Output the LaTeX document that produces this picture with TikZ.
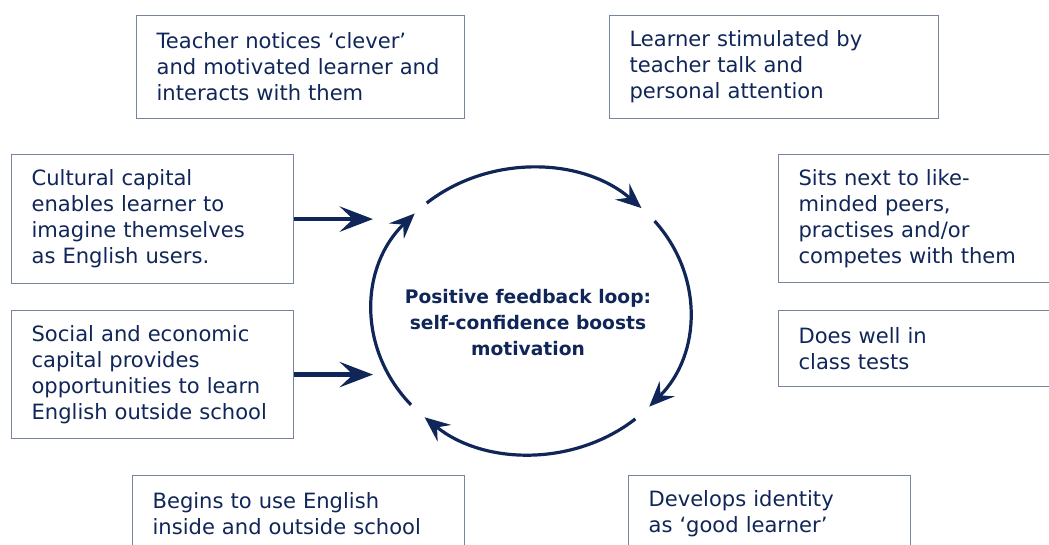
\documentclass[tikz,border=0pt]{standalone}
\usepackage{fontspec}
\setmainfont{DejaVu Sans}
\usepackage{tikz}
\usetikzlibrary{arrows.meta}
\definecolor{navy}{RGB}{16,38,88}
\definecolor{frame}{RGB}{118,132,160}

\begin{document}
\begin{tikzpicture}[x=0.75pt,y=0.75pt,
	every node/.style={text=navy,font=\fontsize{15.8}{19.5}\selectfont},
	box/.style={draw=frame,line width=0.9pt,anchor=north west,align=left,inner xsep=15pt,inner ysep=0pt},
	looparc/.style={navy,line width=2.4pt,-{Stealth[length=19pt,width=16pt,inset=7pt]}},
	inarrow/.style={navy,line width=3.2pt,-{Stealth[length=25pt,width=19pt,inset=10pt]}}]
\useasboundingbox (0,0) rectangle (1049,544);

%boxes
\node[box,text width=216pt,minimum height=77.25pt] (teach) at (136,529) {Teacher notices ‘clever’\\and motivated learner and\\interacts with them};
\node[box,text width=216.75pt,minimum height=77.25pt] (stim) at (609,529) {Learner stimulated by\\teacher talk and\\personal attention};
\node[box,text width=187.5pt,minimum height=96pt] (peers) at (778,390) {Sits next to like-\\minded peers,\\practises and/or\\competes with them};
\node[box,text width=187.5pt,minimum height=57pt] (tests) at (778,234) {Does well in\\class tests};
\node[box,text width=181.5pt,minimum height=96.75pt] (cult) at (11,390) {Cultural capital\\enables learner to\\imagine themselves\\as English users.};
\node[box,text width=181.5pt,minimum height=96pt] (social) at (11,234) {Social and economic\\capital provides\\opportunities to learn\\English outside school};
\node[box,text width=219pt,minimum height=57.75pt] (uses) at (132,69) {Begins to use English\\inside and outside school};
\node[box,text width=181.5pt,minimum height=57.75pt] (ident) at (628,69) {Develops identity\\as ‘good learner’};

%loop
\coordinate (hub) at (531,233);
\node[font=\fontsize{14}{19.5}\selectfont\bfseries,align=center] (motiv) at (528,221) {Positive feedback loop:\\self-confidence boosts\\motivation};
\foreach \s/\e in {131/46,39/-42,-49/-132,-139/-223}{
	\draw[looparc] (hub) ++(\s:159 and 143) arc[start angle=\s,end angle=\e,x radius=159,y radius=143];
}

%arrows into the loop
\coordinate (tipL) at (373,0);
\foreach \n in {cult,social}{
	\draw[inarrow] (\n.east) -- (\n.east -| tipL);
}

\end{tikzpicture}
\end{document}
